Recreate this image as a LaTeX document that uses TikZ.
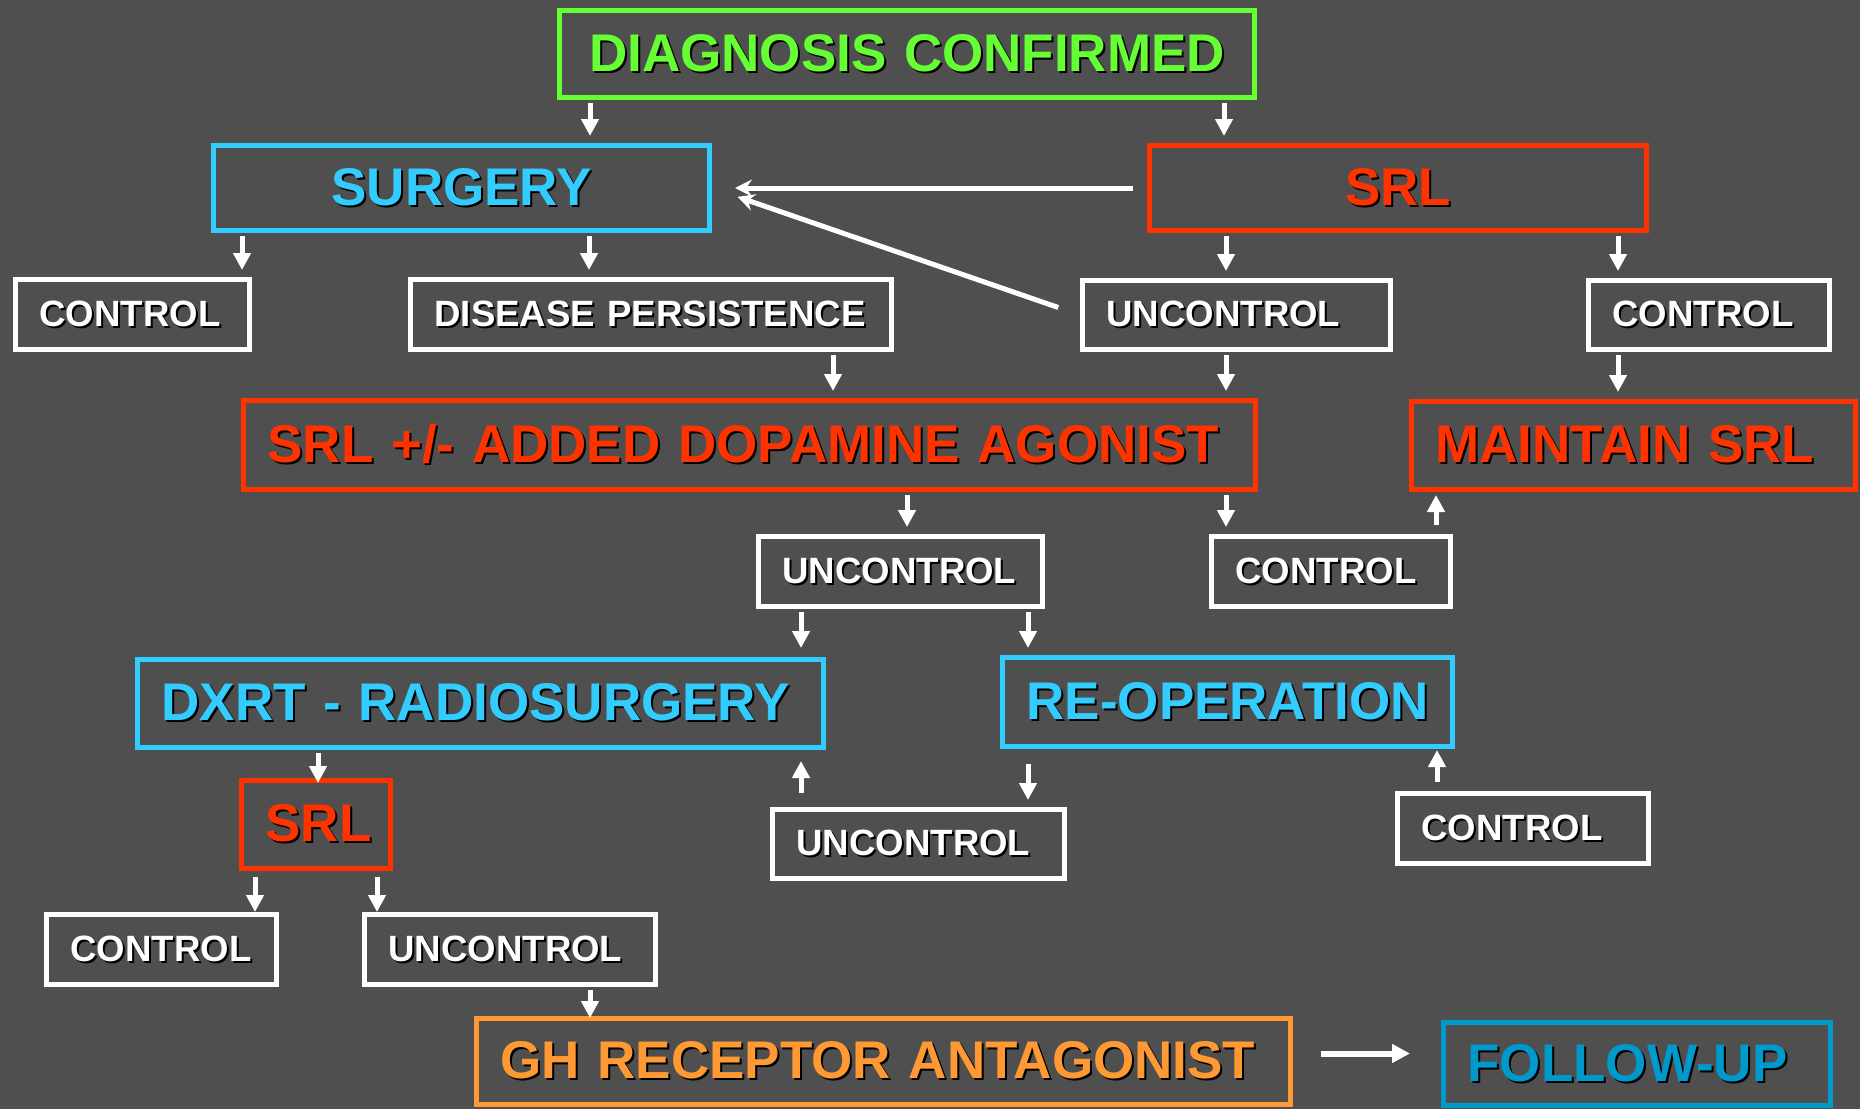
\documentclass[tikz,border=0pt]{standalone}
\usepackage{fontspec}
\setmainfont{Liberation Sans}
\usetikzlibrary{arrows.meta}
\definecolor{bgcol}{HTML}{4F4F4F}
\definecolor{diaggreen}{HTML}{66FF33}
\definecolor{surgblue}{HTML}{33CCFF}
\definecolor{srlred}{HTML}{FF3300}
\definecolor{ghorange}{HTML}{FF9933}
\definecolor{followblue}{HTML}{0099CC}
\newcommand\bigtext{\fontsize{53}{60}\selectfont\bfseries}
\newcommand\smalltext{\fontsize{36.6}{44}\selectfont\bfseries}
\newcommand\shad[1]{\mbox{\rlap{\kern2pt\raisebox{-2pt}{\color{black}#1}}#1}}
\begin{document}
\begin{tikzpicture}[x=1pt,y=-1pt,
    box/.style={draw, line width=5pt, inner xsep=24pt, inner ysep=0pt, align=left},
    big/.style={box, font=\bigtext},
    small/.style={box, draw=white, text=white, font=\smalltext, minimum height=70pt},
    arr/.style={white, line width=5pt, -{Triangle[width=17pt,length=17pt]}, shorten <=3pt, shorten >=7pt},
    back/.style={white, line width=5pt, -{Stealth[width=17pt,length=17pt,inset=6pt]}}]
  \useasboundingbox (0,0) rectangle (1860,1109);
  \fill[bgcol] (0,0) rectangle (1860,1109);
  \node[big, draw=diaggreen, text=diaggreen, align=center, text width=647pt, minimum height=87pt] (diag) at (907,54) {\shad{DIAGNOSIS CONFIRMED}};
  \node[big, draw=surgblue, text=surgblue, align=center, text width=448pt, minimum height=85pt] (surg) at (461.5,188) {\shad{SURGERY}};
  \node[big, draw=srlred, text=srlred, align=center, text width=449pt, minimum height=85pt] (srl) at (1398,188) {\shad{SRL}};
  \node[small, text width=186pt] (ctrlA) at (132.5,314.5) {\shad{CONTROL}};
  \node[small, text width=433pt] (persist) at (651,314.5) {\shad{DISEASE PERSISTENCE}};
  \node[small, text width=260pt, minimum height=69pt] (uncA) at (1236.5,315) {\shad{UNCONTROL}};
  \node[small, text width=193pt, minimum height=69pt] (ctrlB) at (1709,315) {\shad{CONTROL}};
  \node[big, draw=srlred, text=srlred, text width=964pt, minimum height=89pt] (dopa) at (749.5,445) {\shad{SRL +/- ADDED DOPAMINE AGONIST}};
  \node[big, draw=srlred, text=srlred, text width=396pt, minimum height=88pt] (maint) at (1633.5,445.5) {\shad{MAINTAIN SRL}};
  \node[small, text width=236pt] (uncB) at (900.5,571.5) {\shad{UNCONTROL}};
  \node[small, text width=191pt] (ctrlC) at (1331,571.5) {\shad{CONTROL}};
  \node[big, draw=surgblue, text=surgblue, text width=638pt, minimum height=88pt] (dxrt) at (480.5,703.5) {\shad{DXRT - RADIOSURGERY}};
  \node[big, draw=surgblue, text=surgblue, text width=402pt, minimum height=89pt] (reop) at (1227.5,702) {\shad{RE-OPERATION}};
  \node[big, draw=srlred, text=srlred, text width=101pt, minimum height=88pt] (srlB) at (316,824.5) {\shad{SRL}};
  \node[small, text width=244pt, minimum height=69pt] (uncC) at (918.5,844) {\shad{UNCONTROL}};
  \node[small, text width=203pt] (ctrlD) at (1523,828.5) {\shad{CONTROL}};
  \node[small, text width=182pt] (ctrlE) at (161.5,949.5) {\shad{CONTROL}};
  \node[small, text width=243pt] (uncD) at (510,949.5) {\shad{UNCONTROL}};
  \node[big, draw=ghorange, text=ghorange, text width=766pt, minimum height=86pt] (gh) at (883.5,1061.5) {\shad{GH RECEPTOR ANTAGONIST}};
  \node[big, draw=followblue, text=followblue, text width=339pt, minimum height=83pt] (follow) at (1637,1064) {\shad{FOLLOW-UP}};
  \draw[arr] (diag.south -| 590,0) -- (surg.north -| 590,0);
  \draw[arr] (diag.south -| 1224,0) -- (srl.north -| 1224,0);
  \draw[arr] (surg.south -| 242,0) -- (ctrlA.north -| 242,0);
  \draw[arr] (surg.south -| 589,0) -- (persist.north -| 589,0);
  \draw[arr] (srl.south -| 1226,0) -- (uncA.north -| 1226,0);
  \draw[arr] (srl.south -| 1618,0) -- (ctrlB.north -| 1618,0);
  \draw[back, shorten <=14pt, shorten >=23pt] (srl.west) -- (surg.east);
  \draw[back, shorten <=23pt, shorten >=27pt] (uncA.west) -- (surg.east);
  \draw[arr] (persist.south -| 833,0) -- (dopa.north -| 833,0);
  \draw[arr] (uncA.south -| 1226,0) -- (dopa.north -| 1226,0);
  \draw[arr] (ctrlB.south -| 1618,0) -- (maint.north -| 1618,0);
  \draw[arr] (dopa.south -| 907,0) -- (uncB.north -| 907,0);
  \draw[arr] (dopa.south -| 1226,0) -- (ctrlC.north -| 1226,0);
  \draw[arr, shorten <=9pt, shorten >=3pt] (ctrlC.north -| 1436,0) -- (maint.south -| 1436,0);
  \draw[arr, shorten >=9pt] (uncB.south -| 801,0) -- (dxrt.north -| 801,0);
  \draw[arr] (uncB.south -| 1028,0) -- (reop.north -| 1028,0);
  \draw[arr, shorten >=-5pt] (dxrt.south -| 318,0) -- (srlB.north -| 318,0);
  \draw[arr, shorten <=14pt, shorten >=11pt] (uncC.north -| 801,0) -- (dxrt.south -| 801,0);
  \draw[arr, shorten <=15pt] (reop.south -| 1028,0) -- (uncC.north -| 1028,0);
  \draw[arr, shorten <=9pt, shorten >=1pt] (ctrlD.north -| 1437,0) -- (reop.south -| 1437,0);
  \draw[arr, shorten <=6pt, shorten >=0pt] (srlB.south -| 255,0) -- (ctrlE.north -| 255,0);
  \draw[arr, shorten <=6pt, shorten >=0pt] (srlB.south -| 377,0) -- (uncD.north -| 377,0);
  \draw[arr, shorten >=-2pt] (uncD.south -| 590,0) -- (gh.north -| 590,0);
  \draw[white, line width=6pt, -{Triangle[width=18pt,length=18pt]}, shorten <=28pt, shorten >=31pt] ([yshift=8pt]gh.east) -- ([yshift=8pt]gh.east -| follow.west);
\end{tikzpicture}
\end{document}
